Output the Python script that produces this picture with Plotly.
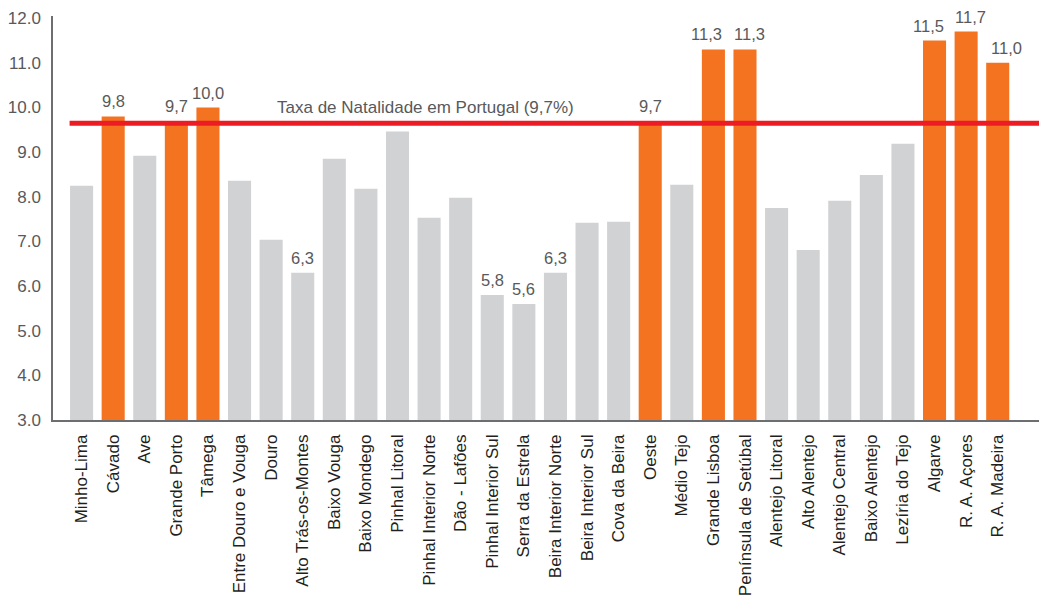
import plotly.graph_objects as go

categories = ["Minho-Lima", "Cávado", "Ave", "Grande Porto", "Tâmega", "Entre Douro e Vouga",
              "Douro", "Alto Trás-os-Montes", "Baixo Vouga", "Baixo Mondego", "Pinhal Litoral",
              "Pinhal Interior Norte", "Dão - Lafões", "Pinhal Interior Sul", "Serra da Estrela",
              "Beira Interior Norte", "Beira Interior Sul", "Cova da Beira", "Oeste", "Médio Tejo",
              "Grande Lisboa", "Península de Setúbal", "Alentejo Litoral", "Alto Alentejo",
              "Alentejo Central", "Baixo Alentejo", "Lezíria do Tejo", "Algarve", "R. A. Açores",
              "R. A. Madeira"]
values = [8.25, 9.8, 8.92, 9.7, 10.0, 8.36, 7.04, 6.3, 8.85, 8.18, 9.46, 7.53, 7.98, 5.8, 5.6,
          6.3, 7.42, 7.44, 9.7, 8.27, 11.3, 11.3, 7.75, 6.81, 7.91, 8.49, 9.19, 11.5, 11.7, 11.0]
highlighted = ["Cávado", "Grande Porto", "Tâmega", "Oeste", "Grande Lisboa",
               "Península de Setúbal", "Algarve", "R. A. Açores", "R. A. Madeira"]
labelled = ["Cávado", "Grande Porto", "Tâmega", "Alto Trás-os-Montes", "Pinhal Interior Sul",
            "Serra da Estrela", "Beira Interior Norte", "Oeste", "Grande Lisboa",
            "Península de Setúbal", "Algarve", "R. A. Açores", "R. A. Madeira"]
national_rate = 9.65
national_label = "Taxa de Natalidade em Portugal (9,7%)"
y_ticks = [3, 4, 5, 6, 7, 8, 9, 10, 11, 12]

# horizontal nudges (px) of some value labels, to keep them apart
label_nudge = {"Grande Lisboa": -7, "Península de Setúbal": 5, "Algarve": -6,
               "R. A. Açores": 4, "R. A. Madeira": 9}

ORANGE = "#F37321"
GREY = "#D1D2D4"
TEXT = "#58595B"
FONT = "Liberation Sans, Arial, sans-serif"
FS = 17

colors = [ORANGE if c in highlighted else GREY for c in categories]

fig = go.Figure()
fig.add_trace(go.Bar(x=categories, y=values, marker=dict(color=colors, line=dict(width=0)),
                     base=0, hoverinfo="x+y"))

annotations = []
for c, v in zip(categories, values):
    if c in labelled:
        annotations.append(dict(x=c, y=v, xref="x", yref="y", text=f"{v:.1f}".replace(".", ","),
                                showarrow=False, yanchor="bottom", yshift=4,
                                xshift=label_nudge.get(c, 0),
                                font=dict(size=16.5, color=TEXT, family=FONT)))
annotations.append(dict(x=10.9, y=national_rate, xref="x", yref="y", text=national_label,
                        showarrow=False, yanchor="bottom", yshift=4,
                        font=dict(size=FS, color=TEXT, family=FONT)))

fig.add_shape(type="line", xref="x", yref="y", x0=-0.38, x1=30.6, y0=national_rate,
              y1=national_rate, line=dict(color="#ED1C24", width=5))

# page body has an 8px margin, so the figure is offset by 8px
fig.update_layout(
    width=1039, height=590,
    margin=dict(l=45, r=0, t=8, b=178),
    plot_bgcolor="white", paper_bgcolor="white",
    showlegend=False, bargap=0.27,
    annotations=annotations,
    font=dict(family=FONT, color=TEXT, size=FS),
)
fig.update_xaxes(range=[-0.905, 30.56], tickangle=-90, showline=True, linecolor="#6D6E71",
                 linewidth=1.5, ticks="", showgrid=False, tickfont=dict(size=FS, color="#231F20"),
                 ticklabelstandoff=6)
fig.update_yaxes(range=[3, 12.05], tickvals=y_ticks, tickformat=".1f", showline=True,
                 linecolor="#6D6E71", linewidth=1.5, ticks="", showgrid=False, zeroline=False,
                 tickfont=dict(size=FS, color=TEXT), ticklabelstandoff=7)

fig.write_html("out.html")
